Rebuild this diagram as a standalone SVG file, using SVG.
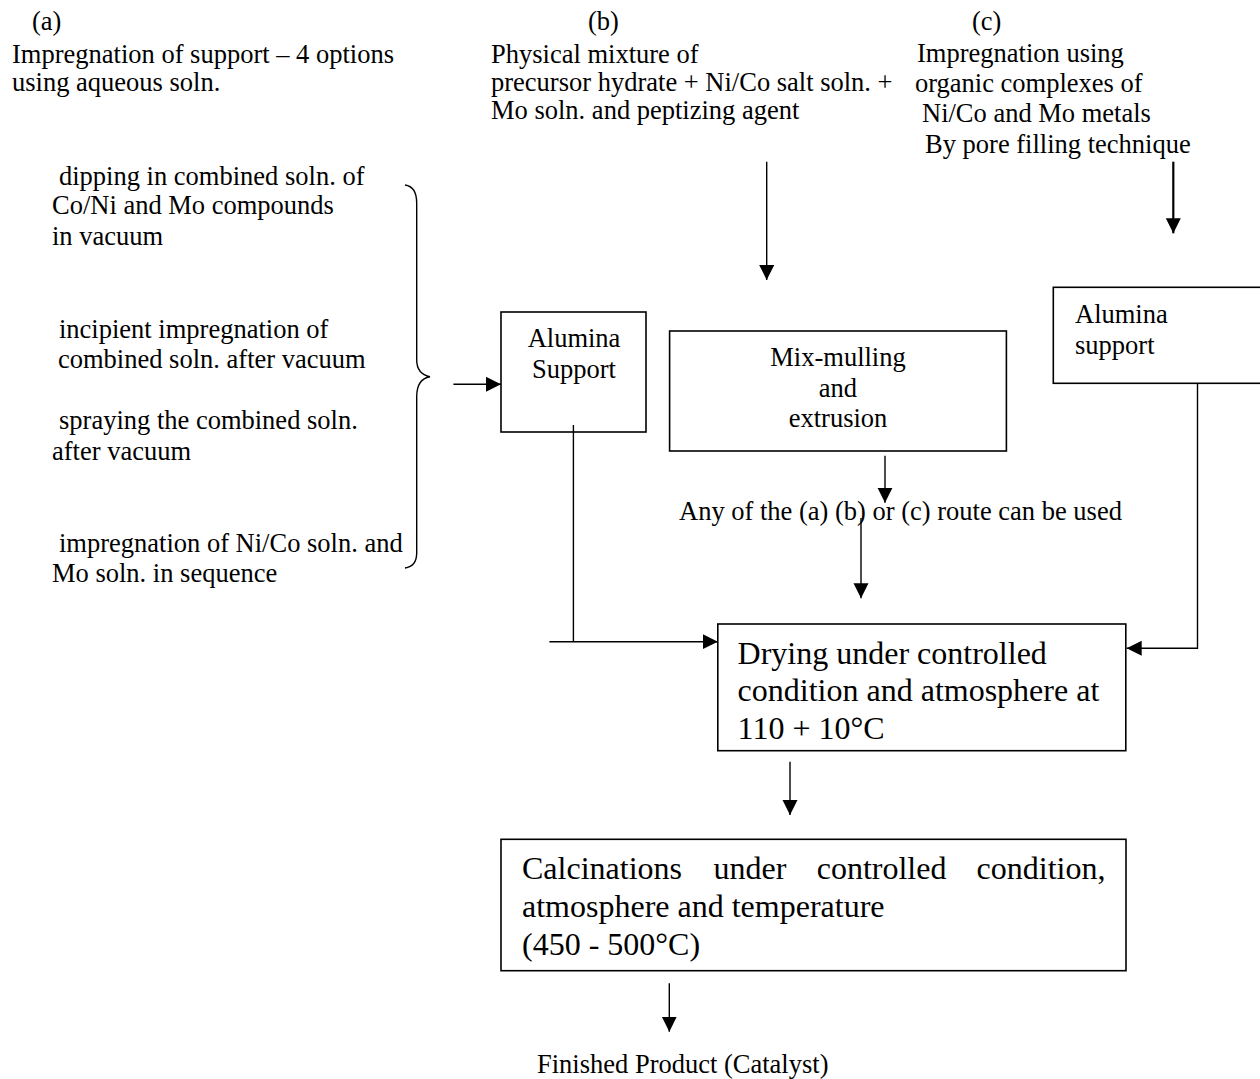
<svg xmlns="http://www.w3.org/2000/svg" width="1260" height="1079" viewBox="0 0 1260 1079">
<style>
text{font-family:"Liberation Serif","Times New Roman",serif;font-size:26.5px;fill:#000}
.big{font-size:32px}
.mid{text-anchor:middle}
.box{fill:#fff;stroke:#000;stroke-width:1.6}
.ln{fill:none;stroke:#000;stroke-width:1.4}
.thick{stroke-width:2.2}
</style>
<defs>
<marker id="ah" markerUnits="userSpaceOnUse" markerWidth="16" markerHeight="16" refX="15" refY="7.5" orient="auto">
<path d="M0,0 L15,7.5 L0,15 z" fill="#000"/>
</marker>
</defs>
<rect width="1260" height="1079" fill="#fff"/>

<g id="route-a">
<text x="32" y="30">(a)</text>
<text x="12" y="63">Impregnation of support – 4 options</text>
<text x="12" y="91">using aqueous soln.</text>
</g>
<g id="route-b">
<text x="588" y="30">(b)</text>
<text x="491" y="63">Physical mixture of</text>
<text x="491" y="91">precursor hydrate + Ni/Co salt soln. +</text>
<text x="491" y="119">Mo soln. and peptizing agent</text>
</g>
<g id="route-c">
<text x="972" y="30">(c)</text>
<text x="917" y="62">Impregnation using</text>
<text x="915" y="92">organic complexes of</text>
<text x="922" y="122">Ni/Co and Mo metals</text>
<text x="925" y="153">By pore filling technique</text>
</g>

<g id="options">
<text x="59" y="185">dipping in combined soln. of</text>
<text x="52" y="214">Co/Ni and Mo compounds</text>
<text x="52" y="245">in vacuum</text>
<text x="59" y="338">incipient impregnation of</text>
<text x="58" y="368">combined soln. after vacuum</text>
<text x="59" y="429">spraying the combined soln.</text>
<text x="52" y="460">after vacuum</text>
<text x="59" y="552">impregnation of Ni/Co soln. and</text>
<text x="52" y="582">Mo soln. in sequence</text>
<path class="ln" d="M405,185 C412,186 416.7,192 416.7,203 L416.7,360 C416.7,370 422,375 430,376.7 C422,378 416.7,384 416.7,396.7 L416.7,553 C416.7,562 412,567 405,568"/>
</g>

<g id="alumina-support-left">
<rect class="box" x="501" y="312" width="145" height="120"/>
<text class="mid" x="574" y="347">Alumina</text>
<text class="mid" x="574" y="378">Support</text>
</g>

<g id="mix-mulling">
<rect class="box" x="669.6" y="331" width="336.8" height="120"/>
<text class="mid" x="838" y="366">Mix-mulling</text>
<text class="mid" x="838" y="397">and</text>
<text class="mid" x="838" y="427">extrusion</text>
</g>

<g id="alumina-support-right">
<rect class="box" x="1053.3" y="287.3" width="230" height="96"/>
<text x="1075" y="323">Alumina</text>
<text x="1075" y="354">support</text>
</g>

<g id="note">
<text x="679" y="520">Any of the (a) (b) or (c) route can be used</text>
</g>

<g id="drying">
<rect class="box" x="717.8" y="624" width="408" height="126.7"/>
<text class="big" x="737.6" y="664">Drying under controlled</text>
<text class="big" x="737.6" y="701">condition and atmosphere at</text>
<text class="big" x="737.6" y="739">110 + 10°C</text>
</g>

<g id="calcination">
<rect class="box" x="501" y="839.3" width="625" height="131.4"/>
<text class="big" y="879"><tspan x="522">Calcinations</tspan><tspan x="713.6">under</tspan><tspan x="816.7">controlled</tspan><tspan x="976.6">condition,</tspan></text>
<text class="big" x="522" y="917">atmosphere and temperature</text>
<text class="big" x="522" y="955">(450 - 500°C)</text>
</g>

<g id="product">
<text x="537" y="1073">Finished Product (Catalyst)</text>
</g>

<g id="connectors">
<path class="ln" d="M766.7,161.7 V280" marker-end="url(#ah)"/>
<path class="ln thick" d="M1173.3,161.7 V233.3" marker-end="url(#ah)"/>
<path class="ln" d="M453.4,384.3 H501" marker-end="url(#ah)"/>
<path class="ln" d="M885,455.7 V502.7" marker-end="url(#ah)"/>
<path class="ln" d="M861,518 V598.3" marker-end="url(#ah)"/>
<path class="ln" d="M573.4,425 V641.7"/>
<path class="ln" d="M549.4,641.7 H717.8" marker-end="url(#ah)"/>
<path class="ln" d="M1197.5,383.3 V648.3 H1126.7" marker-end="url(#ah)"/>
<path class="ln" d="M790,761.7 V815" marker-end="url(#ah)"/>
<path class="ln" d="M669.3,983.3 V1031.7" marker-end="url(#ah)"/>
</g>
</svg>
